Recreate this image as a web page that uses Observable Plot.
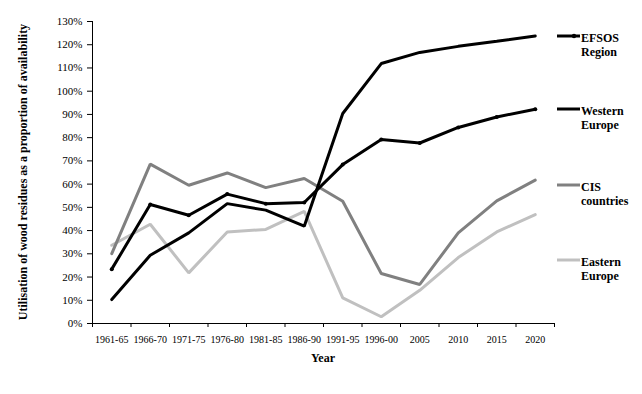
<!DOCTYPE html>
<html>
<head>
<meta charset="utf-8">
<script src="https://cdn.jsdelivr.net/npm/d3@7"></script>
<script src="https://cdn.jsdelivr.net/npm/@observablehq/plot@0.6"></script>
<style>
  html, body { margin: 0; padding: 0; background: #fff; }
  #chart { width: 642px; height: 394px; }
</style>
</head>
<body>
<div id="chart"></div>
<script>
const categories = ["1961-65","1966-70","1971-75","1976-80","1981-85","1986-90","1991-95","1996-00","2005","2010","2015","2020"];
const efsos   = [23.4, 51.2, 46.6, 55.7, 51.6, 52.1, 68.4, 79.2, 77.7, 84.4, 88.9, 92.2];
const western = [10.3, 29.4, 39.0, 51.6, 48.8, 41.9, 90.4, 111.9, 116.7, 119.3, 121.5, 123.8];
const cis     = [30.1, 68.6, 59.5, 64.8, 58.5, 62.4, 52.6, 21.5, 16.8, 39.0, 52.8, 61.7];
const eastern = [33.7, 42.7, 21.8, 39.4, 40.5, 48.3, 11.0, 2.9, 14.3, 28.4, 39.4, 46.9];
const yTicks = [0,10,20,30,40,50,60,70,80,90,100,110,120,130];

const seriesList = [
  {name: "Eastern Europe", lines: ["Eastern", "Europe"], values: eastern, color: "#c0c0c0", marker: false},
  {name: "CIS countries", lines: ["CIS", "countries"], values: cis, color: "#808080", marker: false},
  {name: "Western Europe", lines: ["Western", "Europe"], values: western, color: "#000000", marker: false},
  {name: "EFSOS Region", lines: ["EFSOS", "Region"], values: efsos, color: "#000000", marker: true}
];

const rows = seriesList.flatMap(s => s.values.map((v, i) => ({series: s.name, i: i + 0.5, v: v / 100, color: s.color})));
const centers = categories.map((c, i) => i + 0.5);
const bounds = d3.range(categories.length + 1);
const font = "'Liberation Serif', 'Times New Roman', serif";

const marks = [
  Plot.axisY({ticks: yTicks.map(t => t / 100), tickFormat: d => Math.round(d * 100) + "%", tickSize: 5, tickPadding: 5, fontSize: 11, label: null}),
  Plot.axisX({ticks: bounds, tickSize: 4, tickFormat: () => "", label: null}),
  Plot.axisX({ticks: centers, tickSize: 0, tickPadding: 12, tickFormat: d => categories[Math.floor(d)], fontSize: 10, label: null}),
  Plot.ruleY([0], {stroke: "#000", strokeWidth: 1}),
  Plot.ruleX([0], {stroke: "#000", strokeWidth: 1})
];
for (const s of seriesList) {
  marks.push(Plot.line(rows.filter(r => r.series === s.name), {x: "i", y: "v", stroke: s.color, strokeWidth: 3, strokeLinejoin: "miter"}));
  if (s.marker) marks.push(Plot.dot(rows.filter(r => r.series === s.name), {x: "i", y: "v", r: 2, fill: "#000", stroke: "none"}));
}

const chart = Plot.plot({
  width: 642,
  height: 394,
  marginLeft: 92,
  marginRight: 88,
  marginTop: 21,
  marginBottom: 71,
  style: {fontFamily: font, color: "#000", background: "#fff"},
  x: {type: "linear", domain: [0, categories.length], axis: null},
  y: {type: "linear", domain: [0, 1.3], axis: null},
  marks
});
document.getElementById("chart").appendChild(chart);

const svg = d3.select(chart);
// axis titles
svg.append("text")
  .attr("transform", "translate(27,172) rotate(-90)")
  .attr("text-anchor", "middle")
  .attr("font-family", font).attr("font-weight", "bold").attr("font-size", 12)
  .attr("fill", "#000")
  .text("Utilisation of wood residues as a proportion of availability");
svg.append("text")
  .attr("x", 323).attr("y", 362)
  .attr("text-anchor", "middle")
  .attr("font-family", font).attr("font-weight", "bold").attr("font-size", 12)
  .attr("fill", "#000")
  .text("Year");

// legend
const legendOrder = [seriesList[3], seriesList[2], seriesList[1], seriesList[0]];
const legendY = [36, 109, 185, 260];
legendOrder.forEach((s, k) => {
  const g = svg.append("g").attr("transform", `translate(557,${legendY[k]})`);
  g.append("line").attr("x1", 0).attr("x2", 23).attr("y1", 0).attr("y2", 0)
    .attr("stroke", s.color).attr("stroke-width", 3);
  if (s.marker) g.append("circle").attr("cx", 17).attr("cy", 0).attr("r", 2.2).attr("fill", "#000");
  s.lines.forEach((t, j) => {
    g.append("text").attr("x", 24).attr("y", 6 + j * 14)
      .attr("text-anchor", "start")
      .attr("font-family", font).attr("font-weight", "bold").attr("font-size", 12)
      .attr("fill", "#000").text(t);
  });
});
</script>
</body>
</html>
